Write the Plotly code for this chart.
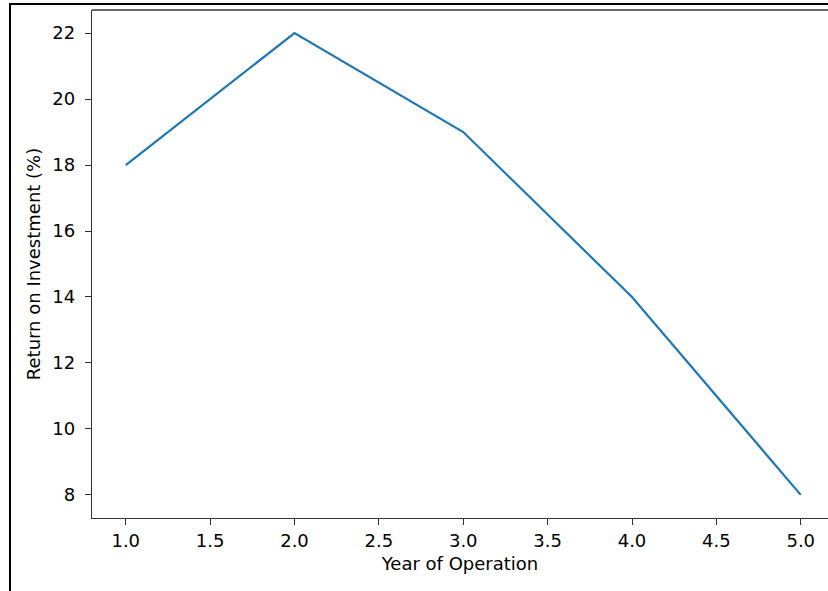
import plotly.graph_objects as go

years = [1.0, 2.0, 3.0, 4.0, 5.0]
roi = [18, 22, 19, 14, 8]
x_ticks = [1.0, 1.5, 2.0, 2.5, 3.0, 3.5, 4.0, 4.5, 5.0]
x_tick_labels = ["1.0", "1.5", "2.0", "2.5", "3.0", "3.5", "4.0", "4.5", "5.0"]
y_ticks = [8, 10, 12, 14, 16, 18, 20, 22]

W, H = 828, 591
L, T, B = 92, 10, 73
plot_w = W - L
plot_h = H - T - B
px_per_unit = 168.75
x0 = 0.8
x1 = x0 + plot_w / px_per_unit

font = dict(family="DejaVu Sans", size=18, color="#000000")

fig = go.Figure()
fig.add_trace(go.Scatter(x=years, y=roi, mode="lines",
                         line=dict(color="#1f77b4", width=2.2)))

def px_x(p):
    return (p - L) / plot_w

def px_y(p):
    return (H - B - p) / plot_h

shapes = [
    # top spine
    dict(type="line", xref="paper", yref="paper", x0=0, x1=1.02, y0=1, y1=1,
         line=dict(color="#333333", width=1.3)),
    # outer frame left
    dict(type="line", xref="paper", yref="paper", x0=px_x(10), x1=px_x(10),
         y0=px_y(4), y1=px_y(600), line=dict(color="#000000", width=2)),
    # outer frame top
    dict(type="line", xref="paper", yref="paper", x0=px_x(9), x1=px_x(840),
         y0=px_y(4), y1=px_y(4), line=dict(color="#000000", width=2)),
]

fig.update_layout(
    width=W, height=H,
    margin=dict(l=L, r=0, t=T, b=B, pad=0),
    paper_bgcolor="white", plot_bgcolor="white",
    showlegend=False, font=font, shapes=shapes,
    xaxis=dict(range=[x0, x1], tickvals=x_ticks, ticktext=x_tick_labels,
               showgrid=False, zeroline=False, showline=True,
               linecolor="#333333", linewidth=1.3,
               ticks="outside", ticklen=6, tickwidth=1.3, tickcolor="#333333",
               tickfont=font, ticklabelstandoff=0,
               title=dict(text="Year of Operation", font=font, standoff=7)),
    yaxis=dict(range=[7.3, 22.7], tickvals=y_ticks,
               showgrid=False, zeroline=False, showline=True,
               linecolor="#333333", linewidth=1.3,
               ticks="outside", ticklen=6, tickwidth=1.3, tickcolor="#333333",
               tickfont=font, ticklabelstandoff=6,
               title=dict(text="Return on Investment (%)", font=font, standoff=7)),
)

fig.write_html("out.html", config={"displayModeBar": False},
               post_script="document.body.style.margin='0';document.body.style.overflow='hidden';")
